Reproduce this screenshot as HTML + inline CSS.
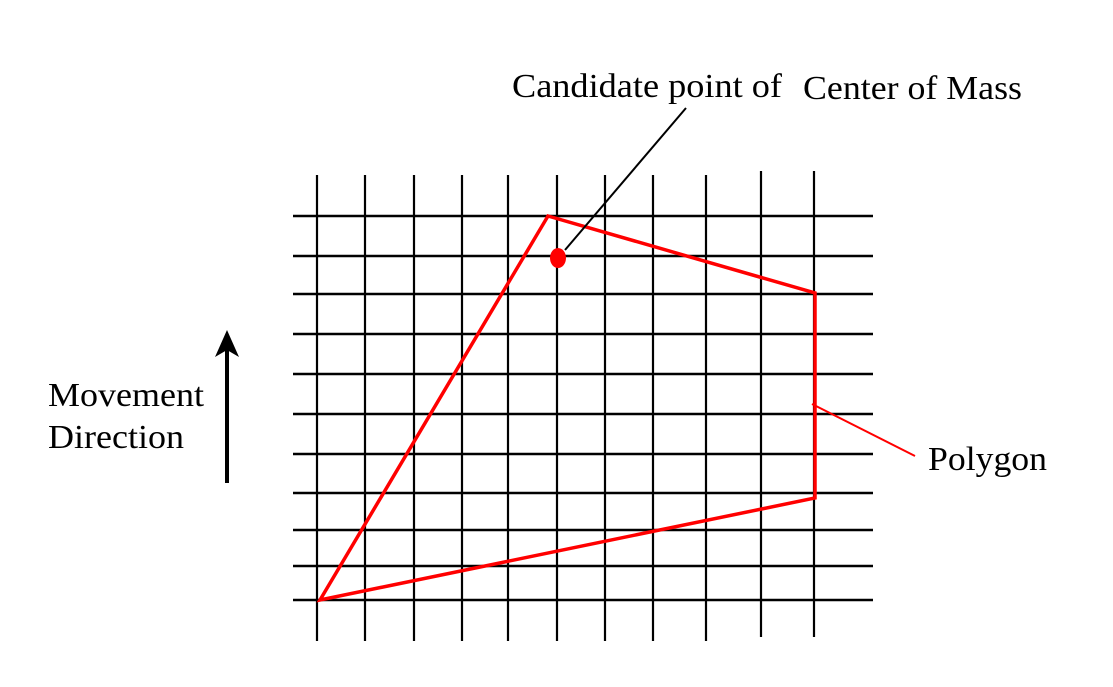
<!DOCTYPE html>
<html><head><meta charset="utf-8"><style>html,body{margin:0;padding:0;background:#fff}svg{display:block}text{font-family:"Liberation Serif",serif;font-size:34px;fill:#000}</style></head>
<body>
<svg width="1113" height="687" viewBox="0 0 1113 687">
<g id="grid"></g>
<polygon points="320,600 548,216 815,293 815,498" fill="none" stroke="#f00" stroke-width="3.5" stroke-linejoin="miter"/>
<ellipse cx="558" cy="258" rx="8" ry="10" fill="#f00"/>
<line x1="565" y1="250" x2="686" y2="108" stroke="#000" stroke-width="2"/>
<line x1="812" y1="404" x2="915" y2="456" stroke="#f00" stroke-width="2"/>
<line x1="227" y1="483" x2="227" y2="348" stroke="#000" stroke-width="4"/>
<polygon points="227,330 215,357 227,350 239,357" fill="#000"/>
<text x="512" y="97" textLength="270" lengthAdjust="spacingAndGlyphs">Candidate point of</text>
<text x="803" y="99" textLength="219" lengthAdjust="spacingAndGlyphs">Center of Mass</text>
<text x="48" y="406" textLength="156" lengthAdjust="spacingAndGlyphs">Movement</text>
<text x="48" y="448" textLength="136" lengthAdjust="spacingAndGlyphs">Direction</text>
<text x="928" y="470" textLength="119" lengthAdjust="spacingAndGlyphs">Polygon</text>
</svg>
<script>
const xs=[317,365,414,462,508,557,605,653,706,761,814];
const ys=[216,256,294,334,374,414,454,493,530,566,600];
const g=document.getElementById('grid');
const NS='http://www.w3.org/2000/svg';
xs.forEach((x,i)=>{const l=document.createElementNS(NS,'line');


const top=i>=9?171:175,bot=i>=9?637:641;
l.setAttribute('x1',x);l.setAttribute('x2',x);l.setAttribute('y1',top);l.setAttribute('y2',bot);
l.setAttribute('stroke','#000');l.setAttribute('stroke-width','2.2');g.appendChild(l);});
ys.forEach(y=>{const l=document.createElementNS(NS,'line');


l.setAttribute('x1',293);l.setAttribute('x2',873);l.setAttribute('y1',y);l.setAttribute('y2',y);
l.setAttribute('stroke','#000');l.setAttribute('stroke-width','2.6');g.appendChild(l);});
</script>
</body></html>
